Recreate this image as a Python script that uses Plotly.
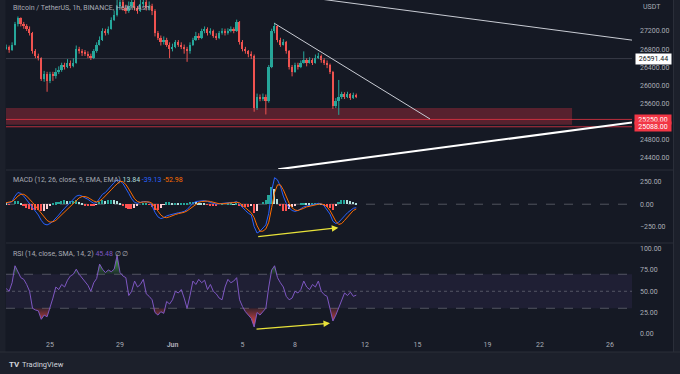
import plotly.graph_objects as go
from datetime import datetime, timedelta

W, H = 680, 374

# ---------------- data (4h resolution) ----------------
start_time = "2023-05-22 08:00"
first_open = 26780
close = [26820, 26850, 26780, 26900, 27350, 27480, 27350, 27300, 27250, 27150,
         26750, 26650, 26600, 26150, 26250, 26100, 26250, 26200, 26300, 26350,
         26450, 26400, 26500, 26420, 26500, 26800, 26750, 26720, 26700, 26650,
         26600, 26750, 26900, 27000, 27200, 27150, 27250, 27450, 27550, 27750,
         27850, 27700, 27650, 27750, 27850, 27700, 27650, 27800, 27850, 27700,
         27750, 27650, 27150, 27050, 26950, 27000, 26900, 26800, 26850, 26950,
         26900, 26850, 26800, 26750, 26900, 27000, 27100, 27050, 27200, 27250,
         27150, 27200, 27100, 27050, 27150, 27200, 27150, 27200, 27250, 27200,
         27400, 26950, 26800, 26750, 26700, 26650, 25500, 25750, 25700, 25750,
         25650, 26400, 27200, 27300, 27000, 26900, 26950, 26750, 26400, 26300,
         26450, 26400, 26500, 26550, 26500, 26550, 26500, 26600, 26650, 26550,
         26500, 26450, 26300, 25550, 25650, 25750, 25800, 25750, 25800, 25730,
         25780, 25760]
high = [26880, 26900, 26880, 26950, 27400, 27520, 27500, 27400, 27350, 27300,
        27180, 26800, 26700, 26620, 26320, 26300, 26300, 26300, 26380, 26420,
        26500, 26500, 26580, 26550, 26600, 26880, 26850, 26800, 26780, 26750,
        26700, 26800, 26950, 27080, 27260, 27250, 27300, 27500, 27650, 27950,
        28050, 27900, 27780, 27850, 27950, 27880, 27750, 27900, 28000, 27880,
        27850, 27800, 27680, 27200, 27100, 27080, 27050, 26950, 26920, 27000,
        27000, 26950, 26900, 26850, 26950, 27050, 27180, 27150, 27250, 27300,
        27280, 27260, 27230, 27150, 27200, 27260, 27250, 27260, 27300, 27280,
        27450, 27420, 27000, 26850, 26780, 26750, 26680, 25820, 25800, 25820,
        25800, 26450, 27250, 27380, 27320, 27050, 27020, 26980, 26780, 26450,
        26500, 26500, 26550, 26750, 26600, 26620, 26600, 26680, 26720, 26680,
        26600, 26550, 26480, 26320, 25720, 26120, 25860, 25850, 25860, 25830,
        25840, 25820]
low = [26740, 26790, 26720, 26760, 26880, 27300, 27300, 27250, 27200, 27100,
       26700, 26600, 26550, 26100, 26080, 25860, 26050, 26100, 26150, 26250,
       26300, 26350, 26380, 26380, 26400, 26480, 26700, 26650, 26650, 26600,
       26560, 26580, 26720, 26880, 26980, 27100, 27120, 27230, 27420, 27520,
       27700, 27650, 27580, 27600, 27700, 27650, 27580, 27620, 27750, 27650,
       27650, 27550, 27080, 27000, 26880, 26900, 26850, 26600, 26750, 26820,
       26850, 26800, 26700, 26520, 26700, 26870, 26980, 27000, 27020, 27150,
       27100, 27120, 27050, 27000, 27020, 27120, 27100, 27120, 27170, 27150,
       27180, 26900, 26750, 26700, 26620, 26580, 25420, 25460, 25650, 25660,
       25360, 25620, 26380, 27150, 26950, 26850, 26880, 26700, 26350, 26200,
       26280, 26350, 26380, 26480, 26420, 26480, 26450, 26480, 26580, 26500,
       26450, 26380, 26250, 25480, 25500, 25350, 25700, 25700, 25720, 25680,
       25700, 25720]
macd = [20, 20, 15, 30, 90, 130, 120, 90, 50, 10,
        -40, -80, -120, -180, -220, -230, -215, -190, -160, -120,
        -80, -40, -10, 20, 50, 90, 100, 90, 70, 55,
        30, 10, 20, 60, 110, 130, 170, 210, 240, 270,
        260, 230, 180, 120, 60, 20, 10, 20, 30, 30,
        20, -20, -90, -140, -160, -150, -130, -120, -110, -100,
        -95, -90, -80, -60, -20, 10, 30, 35, 40, 40,
        30, 20, 10, 0, 5, 10, 10, 15, 20, 20,
        30, 0, -40, -70, -100, -120, -250, -320, -300, -270,
        -230, -100, 150, 295, 270, 200, 90, 10, -40, -70,
        -80, -70, -50, -30, -20, -15, -10, 0, 10, 5,
        -20, -60, -110, -190, -215, -200, -170, -130, -95, -65,
        -45, -39.13]
signal = [10, 15, 20, 30, 55, 90, 110, 110, 90, 60,
          20, -20, -60, -100, -150, -180, -200, -195, -180, -150,
          -120, -85, -50, -20, 10, 40, 70, 85, 85, 75,
          55, 35, 25, 35, 60, 90, 125, 160, 195, 230,
          255, 250, 220, 170, 110, 60, 30, 20, 25, 25,
          25, 10, -30, -80, -120, -145, -150, -140, -125, -115,
          -105, -100, -90, -75, -50, -20, 5, 20, 30, 35,
          35, 30, 20, 10, 5, 5, 10, 12, 15, 18,
          22, 15, -10, -40, -70, -95, -150, -240, -300, -300,
          -275, -200, -40, 130, 215, 215, 160, 80, 10, -40,
          -65, -70, -60, -45, -30, -20, -15, -8, 0, 3,
          -5, -30, -70, -130, -190, -225, -215, -180, -140, -100,
          -70, -52.98]
rsi = [52, 53, 50, 60, 80, 72, 66, 64, 58, 50,
       30, 28, 27, 17, 22, 20, 30, 42, 55, 52,
       58, 55, 63, 68, 70, 76, 70, 66, 62, 57,
       50, 60, 65, 82, 76, 72, 75, 73, 76, 92,
       72, 68, 66, 45, 50, 62, 55, 58, 64, 47,
       44, 40, 25, 22, 26, 24, 38, 35, 40, 50,
       48, 52, 42, 30, 45, 62, 58, 64, 60, 63,
       52, 58, 50, 47, 42, 40, 55, 64, 60, 62,
       66, 40, 32, 26, 22, 18, 8, 25, 22, 26,
       30, 55, 75, 80, 66, 60, 55, 44, 40, 42,
       50, 48, 52, 62, 55, 52, 58, 55, 62, 50,
       46, 44, 30, 15, 22, 30, 40, 48, 45, 49,
       44, 45.48]

x_tick_dates = ["2023-05-25", "2023-05-29", "2023-06-01", "2023-06-05", "2023-06-08",
                "2023-06-12", "2023-06-15", "2023-06-19", "2023-06-22", "2023-06-26"]
x_tick_text = ["25", "29", "<b>Jun</b>", "5", "8", "12", "15", "19", "22", "26"]
price_ticks = [24400, 24800, 25600, 26000, 26400, 26800, 27200]
macd_ticks = [-250, 0, 250]
rsi_ticks = [0, 25, 50, 75, 100]

zone_low, zone_high, zone_end = 25130, 25500, "2023-06-23 20:00"
red_levels = [25250.00, 25088.00]
grey_level = 26591.44
trend_desc = (["2023-06-06 19:36", "2023-06-15 17:09"], [27370, 25260])
trend_top = (["2023-06-08 06:51", "2023-06-27 17:09"], [27963, 26975])
trend_up = (["2023-06-07 01:00", "2023-06-27 17:09"], [24150, 25207])
macd_arrow = (["2023-06-05 19:28", "2023-06-10 11:23"], [-361, -261])
rsi_arrow = (["2023-06-05 17:09", "2023-06-10 00:00"], [5.3, 12.4])

# ---------------- derived ----------------
t0 = datetime.strptime(start_time, "%Y-%m-%d %H:%M")
times = [t0 + timedelta(hours=4 * i) for i in range(len(close))]
opens = [first_open] + close[:-1]
hist = [m - s for m, s in zip(macd, signal)]
hist_colors = []
for i, h in enumerate(hist):
    prev = hist[i - 1] if i > 0 else h
    if h >= 0:
        hist_colors.append("#26a69a" if h >= prev else "#b2dfdb")
    else:
        hist_colors.append("#ff5252" if h <= prev else "#ffcdd2")
rsi_hi = [max(v, 70) for v in rsi]
rsi_lo = [min(v, 30) for v in rsi]

UP, DN = "#26a69a", "#ef5350"
body_base = [min(o, c) for o, c in zip(opens, close)]
body_len = [max(abs(c - o), 20) for o, c in zip(opens, close)]
body_col = [UP if c >= o else DN for o, c in zip(opens, close)]
wick = {UP: ([], []), DN: ([], [])}
for t, h_, l_, col in zip(times, high, low, body_col):
    wick[col][0].extend([t, t, None])
    wick[col][1].extend([l_, h_, None])

BG = "#151924"
TXT = "#a9acb5"
FONT = "Roboto"
day0 = datetime(2023, 5, 25)
px_day = 17.5
def xdate(px):
    return day0 + timedelta(days=(px - 50) / px_day)
def py(px):
    return 1 - px / H

x_left, x_right = xdate(6), xdate(632)

fig = go.Figure()
for col in (UP, DN):
    fig.add_trace(go.Scatter(x=wick[col][0], y=wick[col][1], mode="lines",
                             line=dict(color=col, width=1), xaxis="x", yaxis="y", hoverinfo="skip"))
fig.add_trace(go.Bar(x=times, y=body_len, base=body_base, width=4 * 3600 * 1000 * 0.6,
                     marker=dict(color=body_col, line=dict(width=0)), xaxis="x", yaxis="y",
                     hoverinfo="skip"))

fig.add_trace(go.Bar(x=times, y=hist, marker=dict(color=hist_colors, line=dict(width=0)),
                     width=4 * 3600 * 1000 * 0.55, xaxis="x", yaxis="y2"))
fig.add_trace(go.Scatter(x=times, y=macd, mode="lines", line=dict(color="#2962ff", width=1),
                         xaxis="x", yaxis="y2"))
fig.add_trace(go.Scatter(x=times, y=signal, mode="lines", line=dict(color="#ff6d00", width=1),
                         xaxis="x", yaxis="y2"))

fig.add_trace(go.Scatter(x=times, y=[70] * len(times), mode="lines", line=dict(width=0),
                         xaxis="x", yaxis="y3"))
fig.add_trace(go.Scatter(x=times, y=rsi_hi, mode="lines", line=dict(width=0), fill="tonexty",
                         fillgradient=dict(type="vertical", start=70, stop=90,
                                           colorscale=[[0, "rgba(76,175,80,0.1)"], [1, "rgba(76,175,80,1)"]]),
                         xaxis="x", yaxis="y3"))
fig.add_trace(go.Scatter(x=times, y=[30] * len(times), mode="lines", line=dict(width=0),
                         xaxis="x", yaxis="y3"))
fig.add_trace(go.Scatter(x=times, y=rsi_lo, mode="lines", line=dict(width=0), fill="tonexty",
                         fillgradient=dict(type="vertical", start=8, stop=30,
                                           colorscale=[[0, "rgba(255,82,82,1)"], [1, "rgba(255,82,82,0.15)"]]),
                         xaxis="x", yaxis="y3"))
fig.add_trace(go.Scatter(x=times, y=rsi, mode="lines", line=dict(color="#7e57c2", width=1),
                         xaxis="x", yaxis="y3"))

shapes = []
# price pane drawings
shapes.append(dict(type="rect", xref="x", yref="y", x0=xdate(-20), x1=zone_end, y0=zone_low, y1=zone_high,
                   fillcolor="rgba(242,54,69,0.3)", line=dict(width=0), layer="below"))
for lv in red_levels:
    shapes.append(dict(type="line", xref="x", yref="y", x0=xdate(-20), x1=xdate(700), y0=lv, y1=lv,
                       line=dict(color="rgba(242,54,69,0.75)", width=1)))
shapes.append(dict(type="line", xref="x", yref="y", x0=xdate(-20), x1=xdate(700), y0=grey_level, y1=grey_level,
                   line=dict(color="rgba(120,123,134,0.35)", width=1)))
for (xs, ys), w, c in [(trend_desc, 1, "#c9ccd4"), (trend_top, 1, "#c9ccd4"), (trend_up, 2, "#ffffff")]:
    shapes.append(dict(type="line", xref="x", yref="y", x0=xs[0], x1=xs[1], y0=ys[0], y1=ys[1],
                       line=dict(color=c, width=w)))
# MACD zero line
shapes.append(dict(type="line", xref="x", yref="y2", x0=x_left, x1=x_right, y0=0, y1=0,
                   line=dict(color="rgba(120,123,134,0.6)", width=1, dash="dash"), layer="below"))
# RSI band
shapes.append(dict(type="rect", xref="x", yref="y3", x0=x_left, x1=x_right, y0=30, y1=70,
                   fillcolor="rgba(126,87,194,0.1)", line=dict(width=0), layer="below"))
for lv, d in [(70, "dash"), (50, "dot"), (30, "dash")]:
    shapes.append(dict(type="line", xref="x", yref="y3", x0=x_left, x1=x_right, y0=lv, y1=lv,
                       line=dict(color="rgba(120,123,134,0.6)", width=1, dash=d), layer="below"))
# frame pieces
for ypx in [170, 243]:
    shapes.append(dict(type="line", xref="paper", yref="paper", x0=6 / W, x1=673 / W, y0=py(ypx), y1=py(ypx),
                       line=dict(color="#2a2e39", width=1)))
shapes.append(dict(type="rect", xref="paper", yref="paper", x0=0, x1=1, y0=0, y1=py(352),
                   fillcolor="#1c202b", line=dict(width=0), layer="below"))
shapes.append(dict(type="line", xref="paper", yref="paper", x0=0, x1=1, y0=py(352), y1=py(352),
                   line=dict(color="#2a2e39", width=1)))
shapes.append(dict(type="rect", xref="paper", yref="paper", x0=673.5 / W, x1=1, y0=py(352), y1=1,
                   fillcolor="#1c202b", line=dict(width=0), layer="below"))
shapes.append(dict(type="line", xref="paper", yref="paper", x0=673.5 / W, x1=673.5 / W, y0=py(352), y1=1,
                   line=dict(color="#2a2e39", width=1)))
shapes.append(dict(type="rect", xref="paper", yref="paper", x0=0, x1=5.5 / W, y0=py(352), y1=1,
                   fillcolor="#1c202b", line=dict(width=0), layer="below"))

ann = []
def txt(x, y, text, size=7, color=TXT, xanchor="left", **kw):
    ann.append(dict(x=x / W, y=py(y), xref="paper", yref="paper", text=text, showarrow=False,
                    xanchor=xanchor, yanchor="middle", font=dict(size=size, color=color, family=FONT), **kw))

txt(11, 8, "Bitcoin / TetherUS, 1h, BINANCE, Heikin Ashi")
txt(11, 180, "MACD (12, 26, close, 9, EMA, EMA) <span style='color:#b2dfdb'>13.84</span> "
             "<span style='color:#2962ff'>-39.13</span> <span style='color:#ff6d00'>-52.98</span>")
txt(11, 254, "RSI (14, close, SMA, 14, 2) <span style='color:#7e57c2'>45.48</span> ∅ ∅")
txt(641, 7, "USDT")
txt(7, 364, "<b>TV</b>", size=8, color="#d1d4dc")
txt(20, 364, "TradingView", size=7.5, color="#d1d4dc")

# axis price labels
ann.append(dict(x=653.5 / W, y=grey_level, xref="paper", yref="y", text="26591.44", showarrow=False,
                bgcolor="#ffffff", font=dict(size=7, color="#131722", family=FONT), borderpad=1,
                width=33, xanchor="center", yanchor="middle"))
for lv in red_levels:
    ann.append(dict(x=653 / W, y=lv, xref="paper", yref="y", text=f"{lv:.2f}", showarrow=False,
                    bgcolor="#f23645", font=dict(size=7, color="#ffffff", family=FONT), borderpad=0.5,
                    width=35, xanchor="center", yanchor="middle"))

for (xs, ys), yr in [(macd_arrow, "y2"), (rsi_arrow, "y3")]:
    ann.append(dict(x=xs[1], y=ys[1], ax=xs[0], ay=ys[0], xref="x", yref=yr, axref="x", ayref=yr,
                    showarrow=True, arrowhead=2, arrowsize=1, arrowwidth=1.3, arrowcolor="#e8e23a", text=""))

axis_common = dict(showgrid=False, zeroline=False, side="right", anchor="x", ticks="",
                   tickfont=dict(size=7, color=TXT, family=FONT), ticklabelstandoff=7,
                   showline=False, tickformat=".2f", fixedrange=True)

fig.update_layout(
    width=W, height=H, margin=dict(l=0, r=0, t=0, b=0),
    paper_bgcolor=BG, plot_bgcolor=BG, showlegend=False,
    xaxis=dict(domain=[6 / W, 632 / W], range=[x_left, x_right], type="date", anchor="y3",
               showgrid=False, zeroline=False,
               tickvals=x_tick_dates, ticktext=x_tick_text, ticks="", ticklabelstandoff=2,
               tickfont=dict(size=7, color=TXT, family=FONT)),
    yaxis=dict(domain=[py(169), 1], range=[24157, 27883], tickvals=price_ticks, **axis_common),
    yaxis2=dict(domain=[py(242), py(171)], range=[-420, 369], tickvals=macd_ticks, **axis_common),
    yaxis3=dict(domain=[py(337), py(244)], range=[-3.8, 105.6], tickvals=rsi_ticks, **axis_common),
    shapes=shapes, annotations=ann, bargap=0, barmode="overlay",
)

fig.write_html("out.html")
